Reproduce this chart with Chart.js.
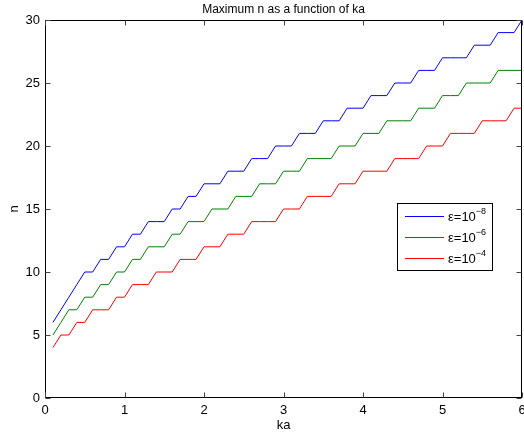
<!DOCTYPE html>
<html>
<head>
<meta charset="utf-8">
<script src="https://cdn.jsdelivr.net/npm/chart.js@4.4.1/dist/chart.umd.min.js"></script>
<style>
  html, body { margin: 0; padding: 0; background: #fff; }
  #wrap { width: 524px; height: 435px; }
</style>
</head>
<body>
<div id="wrap"><canvas id="chart" width="524" height="435"></canvas></div>
<script>
// ka samples
const ka = [
  0.1, 0.2, 0.3, 0.4, 0.5, 0.6, 0.7, 0.8, 0.9, 1.0,
  1.1, 1.2, 1.3, 1.4, 1.5, 1.6, 1.7, 1.8, 1.9, 2.0,
  2.1, 2.2, 2.3, 2.4, 2.5, 2.6, 2.7, 2.8, 2.9, 3.0,
  3.1, 3.2, 3.3, 3.4, 3.5, 3.6, 3.7, 3.8, 3.9, 4.0,
  4.1, 4.2, 4.3, 4.4, 4.5, 4.6, 4.7, 4.8, 4.9, 5.0,
  5.1, 5.2, 5.3, 5.4, 5.5, 5.6, 5.7, 5.8, 5.9, 6.0
];

// maximum n for eps = 1e-8
const nEps8 = [
  6, 7, 8, 9, 10, 10, 11, 11, 12, 12,
  13, 13, 14, 14, 14, 15, 15, 16, 16, 17,
  17, 17, 18, 18, 18, 19, 19, 19, 20, 20,
  20, 21, 21, 21, 22, 22, 22, 23, 23, 23,
  24, 24, 24, 25, 25, 25, 26, 26, 26, 27,
  27, 27, 27, 28, 28, 28, 29, 29, 29, 30
];

// eps = 1e-6
const nEps6 = [
  5, 6, 7, 7, 8, 8, 9, 9, 10, 10,
  11, 11, 12, 12, 12, 13, 13, 14, 14, 14,
  15, 15, 15, 16, 16, 16, 17, 17, 17, 18,
  18, 18, 19, 19, 19, 19, 20, 20, 20, 21,
  21, 21, 22, 22, 22, 22, 23, 23, 23, 24,
  24, 24, 25, 25, 25, 25, 26, 26, 26, 26
];

// eps = 1e-4
const nEps4 = [
  4, 5, 5, 6, 6, 7, 7, 7, 8, 8,
  9, 9, 9, 10, 10, 10, 11, 11, 11, 12,
  12, 12, 13, 13, 13, 14, 14, 14, 14, 15,
  15, 15, 16, 16, 16, 16, 17, 17, 17, 18,
  18, 18, 18, 19, 19, 19, 19, 20, 20, 20,
  21, 21, 21, 21, 22, 22, 22, 22, 23, 23
];

const exponents = ['-8', '-6', '-4'];
const colors = ['#0000ff', '#008000', '#ff0000'];
const series = [nEps8, nEps6, nEps4];

const FONT = '"Liberation Sans", Arial, Helvetica, sans-serif';

// MATLAB-style box, inward ticks, title, axis labels and legend
const matlabFrame = {
  id: 'matlabFrame',
  afterDraw(chart) {
    const { ctx, chartArea: a, scales: { x, y } } = chart;
    const L = Math.round(a.left) + 0.5, R = Math.round(a.right) - 0.5;
    const T = Math.round(a.top) + 0.5, B = Math.round(a.bottom) - 0.5;
    ctx.save();
    ctx.strokeStyle = '#000';
    ctx.lineWidth = 1;
    ctx.strokeRect(L, T, R - L, B - T);

    // ticks pointing into the box
    const tl = 5;
    ctx.strokeStyle = '#444';
    ctx.beginPath();
    x.ticks.forEach(t => {
      const px = Math.round(x.getPixelForValue(t.value)) + 0.5;
      ctx.moveTo(px, B); ctx.lineTo(px, B - tl);
      ctx.moveTo(px, T); ctx.lineTo(px, T + tl);
    });
    y.ticks.forEach(t => {
      const py = Math.round(y.getPixelForValue(t.value)) + 0.5;
      ctx.moveTo(L, py); ctx.lineTo(L + tl, py);
      ctx.moveTo(R, py); ctx.lineTo(R - tl, py);
    });
    ctx.stroke();

    // title
    ctx.fillStyle = '#000';
    ctx.textAlign = 'center';
    ctx.textBaseline = 'alphabetic';
    ctx.font = '12px ' + FONT;
    ctx.fillText('Maximum n as a function of ka', (a.left + a.right) / 2, 13);

    // axis labels
    ctx.font = '13px ' + FONT;
    ctx.fillText('ka', (a.left + a.right) / 2, 429);
    ctx.save();
    ctx.translate(18, (a.top + a.bottom) / 2);
    ctx.rotate(-Math.PI / 2);
    ctx.fillText('n', 0, 0);
    ctx.restore();

    // legend
    const lx = 397.5, ly = 203.5, lw = 95, lh = 67;
    ctx.fillStyle = '#fff';
    ctx.fillRect(lx, ly, lw, lh);
    ctx.strokeStyle = '#000';
    ctx.strokeRect(lx, ly, lw, lh);
    ctx.textAlign = 'left';
    exponents.forEach((e, i) => {
      const ry = 216 + i * 21;
      ctx.strokeStyle = colors[i];
      ctx.beginPath();
      ctx.moveTo(405, ry + 0.5); ctx.lineTo(444, ry + 0.5);
      ctx.stroke();
      ctx.fillStyle = '#000';
      ctx.font = '13px ' + FONT;
      const base = 'ε=10';
      ctx.fillText(base, 448, ry + 5);
      const w = ctx.measureText(base).width;
      ctx.font = '9px ' + FONT;
      ctx.fillText(e.replace('-', '\u2212'), 448 + w, ry - 2);
    });
    ctx.restore();
  }
};

const chart = new Chart(document.getElementById('chart'), {
  type: 'line',
  data: {
    labels: ka,
    datasets: series.map((s, i) => ({
      label: 'ε=10^' + exponents[i],
      data: s.map((v, j) => ({ x: ka[j], y: v })),
      borderColor: colors[i],
      backgroundColor: colors[i],
      borderWidth: 1,
      pointRadius: 0,
      tension: 0,
      fill: false
    }))
  },
  options: {
    responsive: false,
    animation: false,
    devicePixelRatio: 1,
    layout: { padding: { left: 0, top: 20, right: 2, bottom: 0 } },
    plugins: {
      legend: { display: false },
      title: { display: false },
      tooltip: { enabled: false }
    },
    scales: {
      x: {
        type: 'linear',
        min: 0,
        max: 6,
        ticks: { stepSize: 1, color: '#000', padding: 5, maxRotation: 0, font: { family: FONT, size: 13 } },
        grid: { display: false, drawTicks: false },
        border: { display: false },
        afterFit: s => { s.height = 37; s.paddingLeft = 0; s.paddingRight = 0; }
      },
      y: {
        min: 0,
        max: 30,
        ticks: { stepSize: 5, color: '#000', padding: 5, font: { family: FONT, size: 13 } },
        grid: { display: false, drawTicks: false },
        border: { display: false },
        afterFit: s => { s.width = 45; s.paddingTop = 0; s.paddingBottom = 0; }
      }
    }
  },
  plugins: [matlabFrame]
});
</script>
</body>
</html>
